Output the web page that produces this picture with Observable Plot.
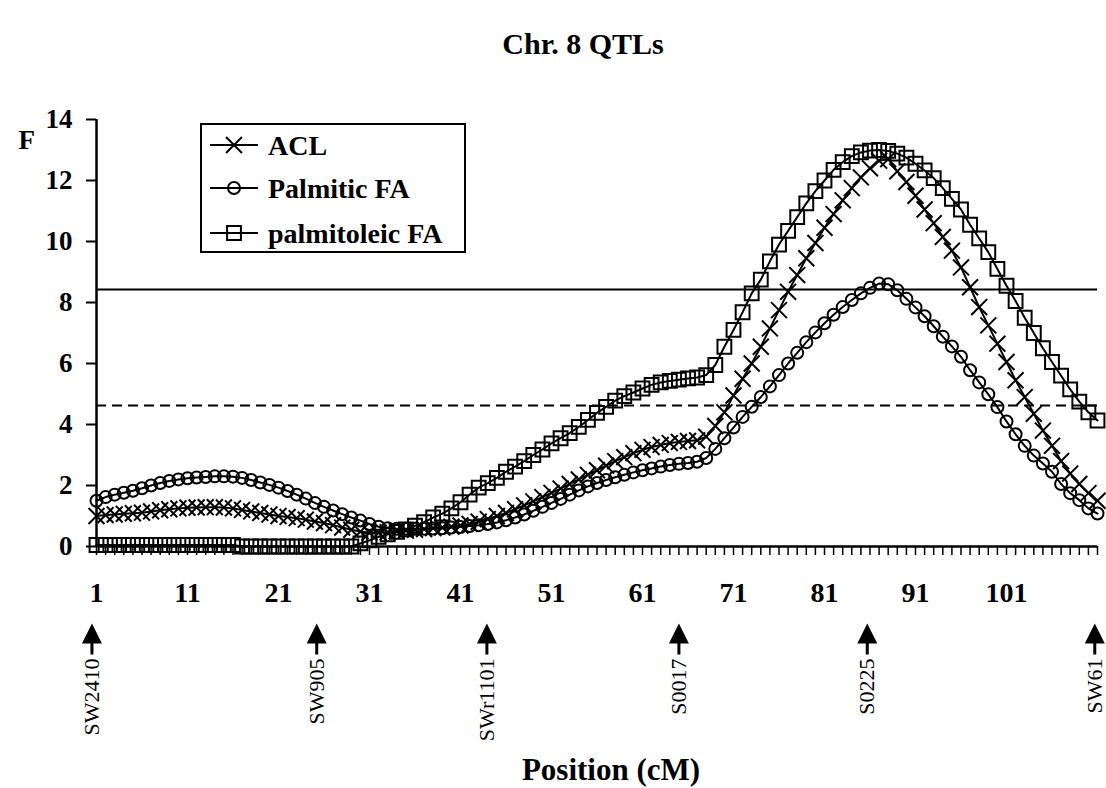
<!DOCTYPE html>
<html>
<head>
<meta charset="utf-8">
<script src="https://cdn.jsdelivr.net/npm/d3@7"></script>
<script src="https://cdn.jsdelivr.net/npm/@observablehq/plot@0.6"></script>
<style>
  body { margin: 0; background: #fff; }
  #chart { position: relative; width: 1106px; height: 788px; }
  #legend { position: absolute; left: 200px; top: 123px; }
</style>
</head>
<body>
<div id="chart"></div>
<script>
// Map positions along chromosome 8 (cM)
const positions = d3.range(1, 112);

// F statistic profiles, one value per cM
const acl = [
  1.00, 1.03, 1.05, 1.07, 1.09, 1.11, 1.15, 1.19, 1.22, 1.25,
  1.27, 1.28, 1.29, 1.29, 1.28, 1.25, 1.20, 1.15, 1.10, 1.05,
  1.00, 0.97, 0.93, 0.88, 0.82, 0.77, 0.70, 0.62, 0.55, 0.49,
  0.45, 0.45, 0.47, 0.50, 0.52, 0.55, 0.57, 0.60, 0.62, 0.65,
  0.69, 0.74, 0.81, 0.90, 1.00, 1.10, 1.22, 1.35, 1.48, 1.62,
  1.76, 1.90, 2.05, 2.20, 2.35, 2.50, 2.65, 2.80, 2.93, 3.06,
  3.17, 3.26, 3.33, 3.39, 3.43, 3.46, 3.48, 3.60, 3.95, 4.40,
  4.95, 5.50, 6.00, 6.55, 7.15, 7.75, 8.35, 8.90, 9.45, 9.95,
  10.45, 10.90, 11.35, 11.75, 12.10, 12.40, 12.65, 12.70, 12.30, 11.95,
  11.50, 11.05, 10.60, 10.15, 9.70, 9.15, 8.50, 7.85, 7.25, 6.65,
  6.05, 5.45, 4.90, 4.35, 3.80, 3.30, 2.80, 2.39, 2.05, 1.75,
  1.50
];
const palmitic = [
  1.50, 1.62, 1.70, 1.76, 1.83, 1.91, 2.00, 2.08, 2.15, 2.20,
  2.24, 2.26, 2.28, 2.30, 2.30, 2.29, 2.25, 2.18, 2.10, 2.02,
  1.93, 1.82, 1.70, 1.57, 1.43, 1.30, 1.18, 1.06, 0.95, 0.85,
  0.74, 0.65, 0.60, 0.58, 0.58, 0.58, 0.58, 0.59, 0.60, 0.62,
  0.64, 0.67, 0.70, 0.74, 0.79, 0.86, 0.95, 1.05, 1.17, 1.30,
  1.43, 1.56, 1.70, 1.84, 1.97, 2.08, 2.18, 2.27, 2.35, 2.43,
  2.50, 2.56, 2.62, 2.67, 2.71, 2.74, 2.78, 2.90, 3.20, 3.55,
  3.90, 4.25, 4.58, 4.90, 5.25, 5.62, 6.00, 6.35, 6.70, 7.02,
  7.32, 7.60, 7.85, 8.08, 8.30, 8.48, 8.62, 8.60, 8.40, 8.12,
  7.84, 7.55, 7.22, 6.88, 6.56, 6.22, 5.78, 5.38, 4.99, 4.57,
  4.10, 3.68, 3.30, 2.98, 2.72, 2.45, 2.05, 1.75, 1.52, 1.25,
  1.08
];
const palmitoleic = [
  0.05, 0.05, 0.05, 0.05, 0.05, 0.05, 0.05, 0.05, 0.05, 0.05,
  0.05, 0.05, 0.05, 0.05, 0.05, 0.05, 0.00, 0.00, 0.00, 0.00,
  0.00, 0.00, 0.00, 0.00, 0.00, 0.00, 0.00, 0.00, 0.00, 0.10,
  0.20, 0.32, 0.40, 0.48, 0.56, 0.68, 0.80, 0.95, 1.08, 1.25,
  1.45, 1.70, 1.93, 2.08, 2.25, 2.45, 2.62, 2.80, 3.00, 3.18,
  3.38, 3.55, 3.72, 3.92, 4.15, 4.38, 4.58, 4.78, 4.93, 5.05,
  5.18, 5.30, 5.38, 5.43, 5.47, 5.51, 5.54, 5.62, 5.95, 6.55,
  7.10, 7.68, 8.30, 8.75, 9.35, 9.90, 10.35, 10.80, 11.25, 11.65,
  12.00, 12.35, 12.60, 12.80, 12.92, 12.98, 13.00, 12.97, 12.88, 12.75,
  12.55, 12.33, 12.08, 11.75, 11.40, 11.05, 10.55, 10.10, 9.65, 9.10,
  8.55, 8.05, 7.50, 7.00, 6.50, 6.05, 5.60, 5.15, 4.75, 4.40,
  4.13
];

const seriesNames = ["ACL", "Palmitic FA", "palmitoleic FA"];
const seriesValues = [acl, palmitic, palmitoleic];
const seriesSymbols = ["times", "circle", "square"];
const seriesRadius = [7.3, 6, 7.8];

// Significance thresholds (solid and dashed lines)
const thresholdSolid = 8.43;
const thresholdDashed = 4.62;

// Microsatellite markers along the linkage map
const markerNames = ["SW2410", "SW905", "SWr1101", "S0017", "S0225", "SW61"];
const markerPositions = [0.5, 25.2, 43.9, 65.0, 85.7, 110.7];

const xTickLabels = [1, 11, 21, 31, 41, 51, 61, 71, 81, 91, 101];
const yTicks = [0, 2, 4, 6, 8, 10, 12, 14];

const serif = "'Liberation Serif', 'Times New Roman', Times, serif";

const rows = seriesNames.flatMap((name, s) =>
  positions.map((p, i) => ({series: name, position: p, F: seriesValues[s][i]}))
);
const markers = markerNames.map((name, i) => ({name, position: markerPositions[i]}));

// Filled up-arrow: triangular head with a short stem below
const arrowSymbol = {
  draw(context) {
    context.moveTo(0, -16);
    context.lineTo(10, 4);
    context.lineTo(-10, 4);
    context.closePath();
    context.moveTo(-1.5, 3);
    context.lineTo(1.5, 3);
    context.lineTo(1.5, 15);
    context.lineTo(-1.5, 15);
    context.closePath();
  }
};

const seriesMarks = seriesNames.flatMap((name, s) => {
  const data = rows.filter(d => d.series === name);
  return [
    Plot.line(data, {x: "position", y: "F", stroke: "black", strokeWidth: 2}),
    Plot.dot(data, {
      x: "position", y: "F", symbol: seriesSymbols[s], r: seriesRadius[s],
      stroke: "black", strokeWidth: 2, fill: "none"
    })
  ];
});

const chart = Plot.plot({
  width: 1106,
  height: 788,
  marginLeft: 96,
  marginRight: 9,
  marginTop: 119,
  marginBottom: 242,
  style: {fontFamily: serif, fontSize: "27px", fontWeight: "bold", color: "black", background: "white"},
  x: {domain: [1, 111]},
  y: {domain: [0, 14]},
  marks: [
    Plot.ruleY([thresholdSolid], {stroke: "black", strokeWidth: 2}),
    Plot.ruleY([thresholdDashed], {stroke: "black", strokeWidth: 2, strokeDasharray: "10,6"}),
    ...seriesMarks,
    Plot.axisY({ticks: yTicks, tickSize: 10, tickPadding: 14, strokeWidth: 2, label: null,
      fontSize: 27, fontWeight: "bold"}),
    Plot.axisX({ticks: positions, tickSize: 9, strokeWidth: 1.5, tickFormat: () => "", label: null}),
    Plot.axisX({ticks: xTickLabels, tickSize: 0, tickPadding: 36, label: null,
      fontSize: 28, fontWeight: "bold"}),
    Plot.ruleX([1], {stroke: "black", strokeWidth: 2.5}),
    Plot.ruleY([0], {stroke: "black", strokeWidth: 2.5}),
    // Marker arrows and names under the axis
    Plot.dot(markers, {x: "position", frameAnchor: "bottom", dy: 93, symbol: arrowSymbol,
      fill: "black", stroke: "none"}),
    Plot.text(markers, {x: "position", text: "name", frameAnchor: "bottom", dy: 112,
      rotate: -90, textAnchor: "end", lineAnchor: "middle", fontSize: 22,
      fontWeight: "normal", fontFamily: serif}),
    // Title and axis titles
    Plot.text(["Chr. 8 QTLs"], {frameAnchor: "top", dx: -14, dy: -75, lineAnchor: "middle",
      fontSize: 30, fontWeight: "bold"}),
    Plot.text(["Position (cM)"], {frameAnchor: "bottom", dx: 14, dy: 224, lineAnchor: "middle",
      fontSize: 31, fontWeight: "bold"}),
    Plot.text(["F"], {frameAnchor: "top-left", dx: -78, dy: 21, lineAnchor: "middle",
      fontSize: 27, fontWeight: "bold"})
  ]
});

const container = document.getElementById("chart");
container.appendChild(chart);

// Legend box
const legendW = 266, legendH = 130;
const legend = d3.create("svg")
  .attr("id", "legend")
  .attr("width", legendW)
  .attr("height", legendH)
  .style("font-family", serif);
legend.append("rect")
  .attr("x", 1).attr("y", 1).attr("width", legendW - 2).attr("height", legendH - 2)
  .attr("fill", "white").attr("stroke", "black").attr("stroke-width", 2);
const rowY = [22, 65, 110];
seriesNames.forEach((name, s) => {
  const g = legend.append("g").attr("transform", `translate(0,${rowY[s]})`);
  g.append("line").attr("x1", 10).attr("x2", 58).attr("stroke", "black").attr("stroke-width", 2);
  const sym = {times: d3.symbolTimes, circle: d3.symbolCircle, square: d3.symbolSquare}[seriesSymbols[s]];
  const r = seriesRadius[s];
  g.append("path")
    .attr("transform", "translate(34,0)")
    .attr("d", d3.symbol(sym, Math.PI * r * r)())
    .attr("fill", "none").attr("stroke", "black").attr("stroke-width", 2);
  g.append("text")
    .attr("x", 68).attr("dy", "0.35em")
    .attr("font-size", 28).attr("font-weight", "bold")
    .text(name);
});
container.appendChild(legend.node());
</script>
</body>
</html>
